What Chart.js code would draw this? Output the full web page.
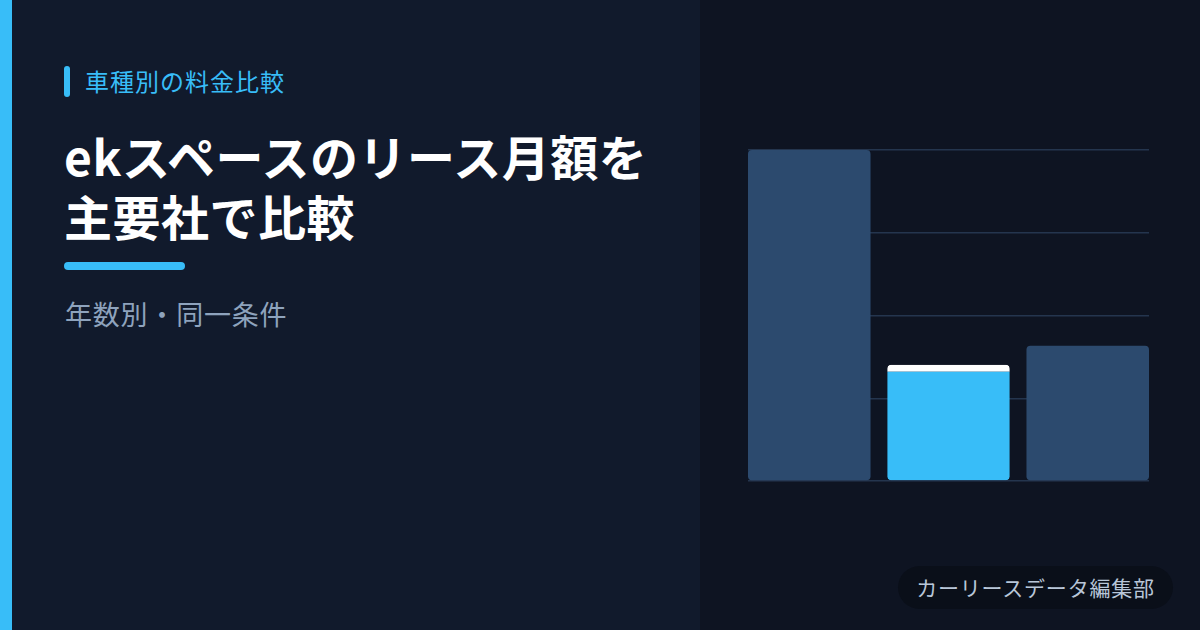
<!DOCTYPE html>
<html lang="ja">
<head>
<meta charset="utf-8">
<script src="https://cdn.jsdelivr.net/npm/chart.js@4.4.1/dist/chart.umd.min.js"></script>
<style>
  html, body { margin:0; padding:0; }
  body { width:1200px; height:630px; position:relative; overflow:hidden; background:#111a2c; font-family:"Noto Sans CJK JP","Noto Sans",sans-serif; }
  .left { position:absolute; left:0; top:0; width:700px; height:630px; background:#111a2c; }
  .right { position:absolute; left:700px; top:0; width:500px; height:630px; background:#0e1422; }
  .accent { position:absolute; left:0; top:0; width:12px; height:630px; background:#38bdf8; }
  .pill { position:absolute; left:64px; top:66px; width:6px; height:31px; border-radius:3px; background:#38bdf8; }
  .label { position:absolute; left:85px; top:66px; font-size:24px; line-height:30px; color:#38bdf8; letter-spacing:1px; white-space:nowrap; }
  .title { position:absolute; left:64px; font-size:48px; line-height:56px; font-weight:700; color:#ffffff; letter-spacing:0.5px; white-space:nowrap; }
  .t1 { top:127px; }
  .t2 { top:187px; }
  .rule { position:absolute; left:64px; top:262px; width:121px; height:8px; border-radius:4px; background:#38bdf8; }
  .sub { position:absolute; left:65px; top:299px; font-size:27px; line-height:30px; color:#8ea3bd; letter-spacing:0.8px; white-space:nowrap; }
  .badge { position:absolute; left:898px; top:566px; width:275px; height:43px; border-radius:22px; background:#0a0f19; color:#b8c6d8; font-size:21px; line-height:43px; text-align:center; white-space:nowrap; letter-spacing:0.8px; }
  #wrap { position:absolute; left:738px; top:140px; width:421px; height:351px; }
</style>
</head>
<body>
<div class="left"></div>
<div class="right"></div>
<div class="accent"></div>
<div class="pill"></div>
<div class="label">車種別の料金比較</div>
<div class="title t1">ekスペースのリース月額を</div>
<div class="title t2">主要社で比較</div>
<div class="rule"></div>
<div class="sub">年数別・同一条件</div>
<div id="wrap"><canvas id="c" width="421" height="351"></canvas></div>
<div class="badge">カーリースデータ編集部</div>
<script>
const categories = ['A社', 'B社', 'C社'];
const monthlyFee = [48000, 16850, 19600];
const barColors = ['#2c4a6e', '#38bdf8', '#2c4a6e'];
const highlightIndex = 1;
const yMin = 0;
const yMax = 48000;
const yStep = 12000;

const points = categories.map((name, i) => ({ x: i, y: monthlyFee[i] }));

new Chart(document.getElementById('c'), {
  type: 'bar',
  data: {
    datasets: [{
      data: points,
      backgroundColor: barColors,
      borderColor: '#ffffff',
      borderWidth: (ctx) => ctx.dataIndex === highlightIndex ? {top: 7, left: 0, right: 0, bottom: 0} : 0,
      borderSkipped: false,
      borderRadius: 4,
      barPercentage: 0.88,
      categoryPercentage: 1.0
    }]
  },
  options: {
    responsive: false,
    animation: false,
    devicePixelRatio: 1,
    layout: { padding: 10 },
    plugins: { legend: { display: false }, tooltip: { enabled: false } },
    scales: {
      x: {
        type: 'linear', display: false, offset: false,
        min: -0.44, max: categories.length - 1 + 0.44,
        afterBuildTicks: (axis) => { axis.ticks = categories.map((name, i) => ({ value: i })); }
      },
      y: {
        min: yMin, max: yMax,
        ticks: { display: false, stepSize: yStep },
        grid: { color: '#24354e', lineWidth: 1.5, drawTicks: false },
        border: { display: false }
      }
    }
  }
});
</script>
</body>
</html>
